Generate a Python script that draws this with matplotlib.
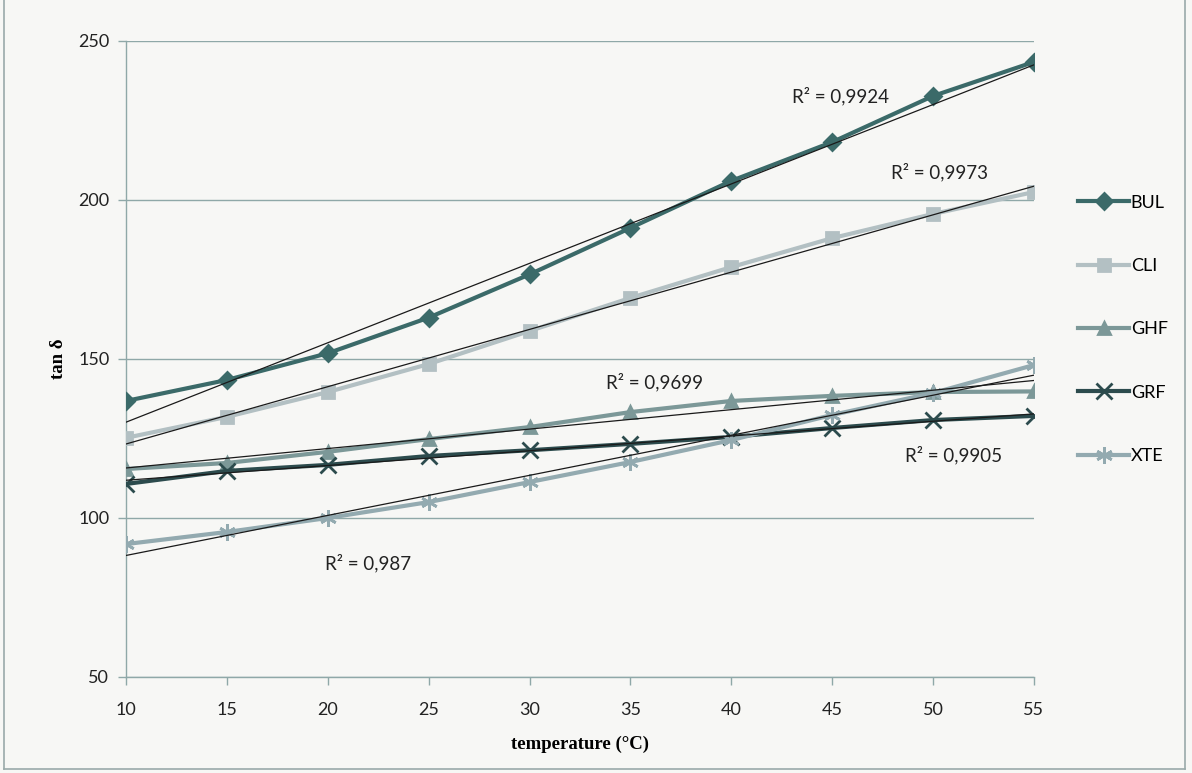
import numpy as np
import matplotlib.pyplot as plt
from matplotlib.lines import Line2D

temp = [10, 15, 20, 25, 30, 35, 40, 45, 50, 55]
bul = [136.8, 143.4, 151.8, 163.0, 176.6, 191.2, 206.0, 218.2, 232.7, 243.4]
cli = [125.2, 131.8, 139.6, 148.4, 158.8, 169.2, 178.9, 188.0, 195.6, 202.5]
ghf = [115.4, 117.3, 120.8, 124.8, 128.6, 133.3, 136.8, 138.4, 139.6, 139.8]
grf = [110.7, 114.8, 116.7, 119.5, 121.3, 123.3, 125.5, 128.3, 130.8, 132.1]
xte = [91.8, 95.6, 100.0, 105.0, 111.3, 117.6, 124.5, 132.4, 139.3, 148.1]

names = ['BUL', 'CLI', 'GHF', 'GRF', 'XTE']
r2_text = ['R² = 0,9924', 'R² = 0,9973', 'R² = 0,9699', 'R² = 0,9905', 'R² = 0,987']
r2_pos = [(45.4, 232.7), (50.3, 208.8), (36.2, 142.8), (51.0, 119.8), (22.0, 85.8)]

colors = ['#3b6a69', '#b3c0c3', '#7c9898', '#2c4b4d', '#93aab0']
markers = ['D', 's', '^', 'x', (6, 2, 0)]
msizes = [8, 9, 9, 11, 12]

fig = plt.figure(figsize=(11.92, 7.73), dpi=100, facecolor='#f7f7f5')
ax = fig.add_axes([0.1057, 0.1242, 0.7617, 0.8228])
ax.set_facecolor('#f7f7f5')

series = [bul, cli, ghf, grf, xte]
handles = []
for ys, c, m, ms, n in zip(series, colors, markers, msizes, names):
    h, = ax.plot(temp, ys, color=c, lw=3.0, marker=m, ms=ms, mew=2.0,
                 mfc=c, mec=c, label=n, zorder=3)
    handles.append(h)

# linear trendlines (black, on top)
t = np.array(temp)
for ys in series:
    k, b = np.polyfit(t, ys, 1)
    ax.plot(t, k * t + b, color='#1a1a1a', lw=0.9, zorder=4)

for txt, (x, y) in zip(r2_text, r2_pos):
    ax.text(x, y, txt, fontsize=13.5, family='Lato', color='#222222',
            ha='center', va='center', zorder=5)

ax.set_xlim(10, 55)
ax.set_ylim(50, 250)
ax.set_xticks(temp)
ax.set_yticks([50, 100, 150, 200, 250])
ax.yaxis.grid(True, color='#8fa8a8', lw=1.0)
ax.set_axisbelow(True)
for s in ['top', 'right']:
    ax.spines[s].set_visible(False)
for s in ['left', 'bottom']:
    ax.spines[s].set_color('#8fa8a8')
    ax.spines[s].set_linewidth(1.0)
ax.tick_params(axis='both', color='#8fa8a8', length=6, width=1.0,
               labelsize=13, labelcolor='#222222', pad=6)
ax.tick_params(axis='x', pad=12)
for lab in ax.get_xticklabels() + ax.get_yticklabels():
    lab.set_family('Lato')

ax.set_xlabel('temperature (°C)', family='Liberation Serif', fontweight='bold',
              fontsize=13.5, labelpad=13)
ax.set_ylabel('tan δ', family='Liberation Serif', fontweight='bold',
              fontsize=13.5, labelpad=8)

leg = fig.legend(handles=handles, loc='upper left', bbox_to_anchor=(0.891, 0.769),
                 frameon=False, handlelength=2.8, labelspacing=2.62,
                 handletextpad=0.1, prop={'family': 'Lato', 'size': 13})

# scanned frame around the chart
fig.add_artist(Line2D([0.003, 0.003], [0.005, 1.0], color='#9aaaaa', lw=1.2))
fig.add_artist(Line2D([0.994, 0.994], [0.005, 1.0], color='#9aaaaa', lw=1.2))
fig.add_artist(Line2D([0.003, 0.994], [0.005, 0.005], color='#9aaaaa', lw=1.2))

fig.savefig('out.png', dpi=100, facecolor=fig.get_facecolor())
